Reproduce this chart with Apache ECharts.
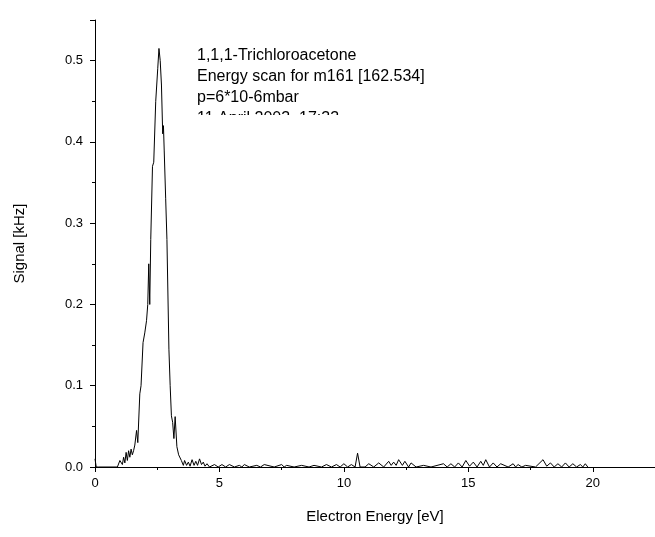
<!DOCTYPE html>
<html>
<head>
<meta charset="utf-8">
<script src="https://cdn.jsdelivr.net/npm/echarts@6/dist/echarts.min.js"></script>
<style>html,body{margin:0;padding:0;background:#fff}#c{width:655px;height:537px}</style>
</head>
<body>
<div id="c"></div>
<script>
// electron energy [eV] and signal [kHz]
const energy = [0, 0.05, 0.15, 0.9, 1.0, 1.1, 1.15, 1.2, 1.25, 1.3, 1.35, 1.4, 1.45, 1.5, 1.55, 1.6, 1.67, 1.72, 1.8, 1.85, 1.93, 2.0, 2.07, 2.12, 2.16, 2.2, 2.24, 2.31, 2.36, 2.44, 2.52, 2.57, 2.62, 2.67, 2.72, 2.75, 2.78, 2.84, 2.89, 2.97, 3.02, 3.07, 3.12, 3.17, 3.22, 3.29, 3.36, 3.47,
  3.55, 3.6, 3.68, 3.75, 3.82, 3.9, 3.98, 4.05, 4.12, 4.2, 4.28, 4.35, 4.42, 4.5, 4.6, 4.8, 4.95, 5.1, 5.25, 5.4, 5.6, 5.8, 5.9, 6.0, 6.2, 6.5, 6.65, 6.8, 7.2, 7.5, 7.6, 7.7, 8.0, 8.3, 8.6, 8.8, 9.1, 9.3, 9.5, 9.7, 9.85, 10.0, 10.15, 10.3, 10.45, 10.55, 10.65,
  10.85, 11.0, 11.2, 11.4, 11.6, 11.8, 11.9, 12.0, 12.1, 12.2, 12.35, 12.45, 12.6, 12.7, 12.9, 13.2, 13.5, 14.0, 14.15, 14.3, 14.45, 14.6, 14.75, 14.9, 15.05, 15.2, 15.35, 15.5, 15.6, 15.7, 15.85, 16.0, 16.15, 16.3, 16.6, 16.8, 16.9, 17.0, 17.15, 17.3, 17.7, 18.0, 18.15, 18.3, 18.45, 18.6, 18.75, 18.9, 19.05, 19.2, 19.35, 19.5, 19.6, 19.7, 19.8];
const signal = [0.01, 0, 0, 0, 0.008, 0.003, 0.012, 0.005, 0.018, 0.008, 0.02, 0.012, 0.022, 0.015, 0.02, 0.027, 0.045, 0.03, 0.09, 0.1, 0.153, 0.165, 0.18, 0.2, 0.25, 0.2, 0.28, 0.37, 0.375, 0.45, 0.49, 0.515, 0.5, 0.47, 0.41, 0.42, 0.39, 0.33, 0.28, 0.145, 0.1, 0.063, 0.055, 0.035, 0.062, 0.025, 0.015, 0.008,
  0.002, 0.008, 0.002, 0.006, 0.001, 0.009, 0.002, 0.007, 0.002, 0.01, 0.003, 0.006, 0.001, 0.004, 0, 0.003, 0, 0.003, 0, 0.003, 0, 0.002, 0, 0.003, 0, 0.002, 0, 0.003, 0, 0.003, 0, 0.002, 0, 0.002, 0, 0.002, 0, 0.003, 0, 0.003, 0, 0.004, 0, 0.003, 0, 0.017, 0,
  0, 0.004, 0, 0.005, 0, 0.007, 0.002, 0.006, 0.002, 0.009, 0.002, 0.007, 0, 0.005, 0, 0.002, 0, 0.004, 0, 0.004, 0, 0.005, 0, 0.008, 0.001, 0.006, 0, 0.007, 0.002, 0.009, 0, 0.005, 0, 0.004, 0, 0.004, 0, 0.003, 0, 0.002, 0, 0.009, 0.001, 0.005, 0, 0.004, 0, 0.005, 0, 0.004, 0, 0.003, 0, 0.004, 0];
const notes = ['1,1,1-Trichloroacetone', 'Energy scan for m161 [162.534]', 'p=6*10-6mbar', '11 April 2003, 17:33'];

const chart = echarts.init(document.getElementById('c'));
const font = 'Arial, Liberation Sans, sans-serif';
const axisCommon = {
  axisLine: { lineStyle: { color: '#000', width: 1 } },
  axisTick: { inside: false, length: 5, lineStyle: { color: '#000' } },
  minorTick: { show: true, splitNumber: 2, length: 3, lineStyle: { color: '#000' } },
  splitLine: { show: false },
  axisLabel: { color: '#000', fontSize: 13, fontFamily: font },
  nameTextStyle: { color: '#000', fontSize: 15, fontFamily: font }
};
chart.setOption({
  animation: false,
  grid: { left: 95, right: 0, top: 20, bottom: 70 },
  xAxis: Object.assign({}, axisCommon, {
    type: 'value', min: 0, max: 22.5, interval: 5,
    name: 'Electron Energy [eV]', nameLocation: 'middle', nameGap: 42,
    axisLabel: Object.assign({}, axisCommon.axisLabel, { margin: 10, showMaxLabel: false })
  }),
  yAxis: Object.assign({}, axisCommon, {
    type: 'value', min: 0, max: 0.55, interval: 0.1,
    name: 'Signal [kHz]', nameLocation: 'middle', nameGap: 68, nameRotate: 90,
    axisLabel: Object.assign({}, axisCommon.axisLabel, { margin: 12, showMaxLabel: false, formatter: v => v.toFixed(1) })
  }),
  series: [{
    type: 'line', showSymbol: false, symbol: 'none',
    lineStyle: { color: '#000', width: 1 },
    data: energy.map((e, i) => [e, signal[i]])
  }],
  graphic: notes.map((t, i) => ({
    type: 'text', left: 197, top: 48 + i * 21, z: 10,
    style: { text: t, fill: '#000', font: '16px ' + font }
  })).concat([{ type: 'rect', shape: { x: 190, y: 115, width: 300, height: 22 }, style: { fill: '#fff' }, z: 100 }])
});
</script>
</body>
</html>
